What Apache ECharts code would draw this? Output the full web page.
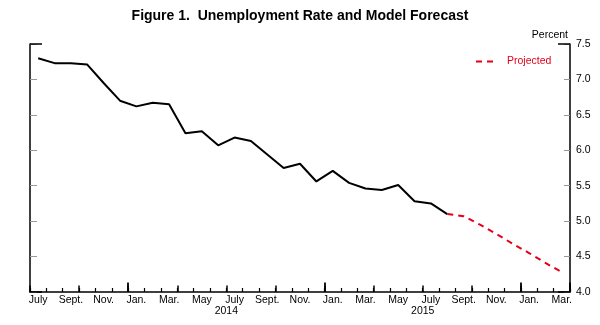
<!DOCTYPE html>
<html>
<head>
<meta charset="utf-8">
<script src="https://cdn.jsdelivr.net/npm/echarts@6/dist/echarts.min.js"></script>
<style>
html,body{margin:0;padding:0;background:#fff;}
#c{width:600px;height:325px;}
</style>
</head>
<body>
<div id="c"></div>
<script>
// Months July 2013 .. March 2016
var months = ['July','Aug.','Sept.','Oct.','Nov.','Dec.',
  'Jan.','Feb.','Mar.','Apr.','May','June','July','Aug.','Sept.','Oct.','Nov.','Dec.',
  'Jan.','Feb.','Mar.','Apr.','May','June','July','Aug.','Sept.','Oct.','Nov.','Dec.',
  'Jan.','Feb.','Mar.'];
var yearLabels = {12: '2014', 24: '2015'};
// Actual unemployment rate, July 2013 .. Aug 2015
var actual = [7.30, 7.23, 7.23, 7.21, 6.95, 6.70, 6.62, 6.67, 6.65, 6.24, 6.27, 6.07,
  6.18, 6.13, 5.94, 5.75, 5.81, 5.56, 5.71, 5.54, 5.46, 5.44, 5.51, 5.28, 5.25, 5.10];
// Projected, Aug 2015 .. Mar 2016
var projected = [5.10, 5.07, 4.95, 4.82, 4.68, 4.55, 4.41, 4.28];
var projStart = 25;
var yTicks = {min: 4.0, max: 7.5, step: 0.5};

var actualData = months.map(function(m, i){ return i < actual.length ? actual[i] : '-'; });
var projData = months.map(function(m, i){
  return (i >= projStart && i < projStart + projected.length) ? projected[i - projStart] : '-';
});

var FONT = 'Liberation Sans, Arial, Helvetica, sans-serif';
var chart = echarts.init(document.getElementById('c'), null, {renderer: 'canvas'});

function catAxis(tickFn, len, showLine, showLabel, color, width) {
  return {
    type: 'category', data: months, position: 'bottom', boundaryGap: true,
    axisLine: {show: showLine, onZero: false, lineStyle: {color: '#000', width: 1.5}},
    axisTick: {show: true, inside: true, length: len, interval: tickFn, lineStyle: {color: color, width: width}},
    axisLabel: {show: showLabel, interval: 1, margin: 3, color: '#000', fontFamily: FONT, fontSize: 10.5},
    splitLine: {show: false}
  };
}

function yAx(pos, interval, tickLen, tickColor, tickW, showLine, showLabel, name) {
  return {
    type: 'value', position: pos, min: yTicks.min, max: yTicks.max, interval: interval,
    name: name || '', nameLocation: 'end', nameGap: 3,
    nameTextStyle: {color: '#000', fontFamily: FONT, fontSize: 10.5, align: 'right', padding: [0, 2, 0, 0]},
    axisLine: {show: showLine, onZero: false, lineStyle: {color: '#000', width: 1.5}},
    axisTick: {show: true, inside: true, length: tickLen, lineStyle: {color: tickColor, width: tickW}},
    axisLabel: {show: showLabel, margin: 6, color: '#000', fontFamily: FONT, fontSize: 10.5,
      formatter: function(v){ return v.toFixed(1); }},
    splitLine: {show: false}
  };
}

chart.setOption({
  animation: false,
  backgroundColor: '#fff',
  title: {
    text: 'Figure 1.  Unemployment Rate and Model Forecast',
    left: 'center', top: 4,
    textStyle: {fontFamily: FONT, fontSize: 14, fontWeight: 'bold', color: '#000'}
  },
  legend: {
    data: ['Projected'], left: 470, top: 51,
    itemWidth: 18, itemHeight: 10,
    itemStyle: {opacity: 0},
    textStyle: {color: '#e3001b', fontFamily: FONT, fontSize: 10.5, padding: [0, 0, 0, 8]}
  },
  grid: {left: 30, right: 30, top: 44, bottom: 33, containLabel: false, outerBoundsMode: 'none'},
  xAxis: [
    catAxis(function(i){ return true; }, 4, true, true, '#000', 1.2),
    catAxis(function(i){ return i % 3 === 0; }, 6.5, false, false, '#000', 1.5),
    catAxis(function(i){ return i % 12 === 6; }, 9.5, false, false, '#000', 1.8),
    {
      type: 'value', position: 'bottom', min: 0, max: months.length, interval: 12,
      axisLine: {show: false, onZero: false}, axisTick: {show: false}, splitLine: {show: false},
      axisLabel: {show: true, margin: 14, color: '#000', fontFamily: FONT, fontSize: 10.5,
        showMaxLabel: false,
        formatter: function(v){ return yearLabels[v] || ''; }}
    }
  ],
  yAxis: [
    yAx('right', yTicks.step, 6, '#999', 1, true, true, 'Percent'),
    yAx('left', yTicks.step, 7, '#999', 1, true, false),
    yAx('right', yTicks.max - yTicks.min, 12, '#000', 1.5, false, false),
    yAx('left', yTicks.max - yTicks.min, 12, '#000', 1.5, false, false)
  ],
  series: [
    {
      name: 'Actual', type: 'line', data: actualData, xAxisIndex: 0, yAxisIndex: 0,
      symbol: 'none', lineStyle: {color: '#000', width: 2}, itemStyle: {color: '#000'}
    },
    {
      name: 'Projected', type: 'line', data: projData, xAxisIndex: 0, yAxisIndex: 0,
      symbol: 'none', lineStyle: {color: '#e3001b', width: 2, type: [6, 5]},
      itemStyle: {color: '#e3001b'}
    }
  ]
});
</script>
</body>
</html>
